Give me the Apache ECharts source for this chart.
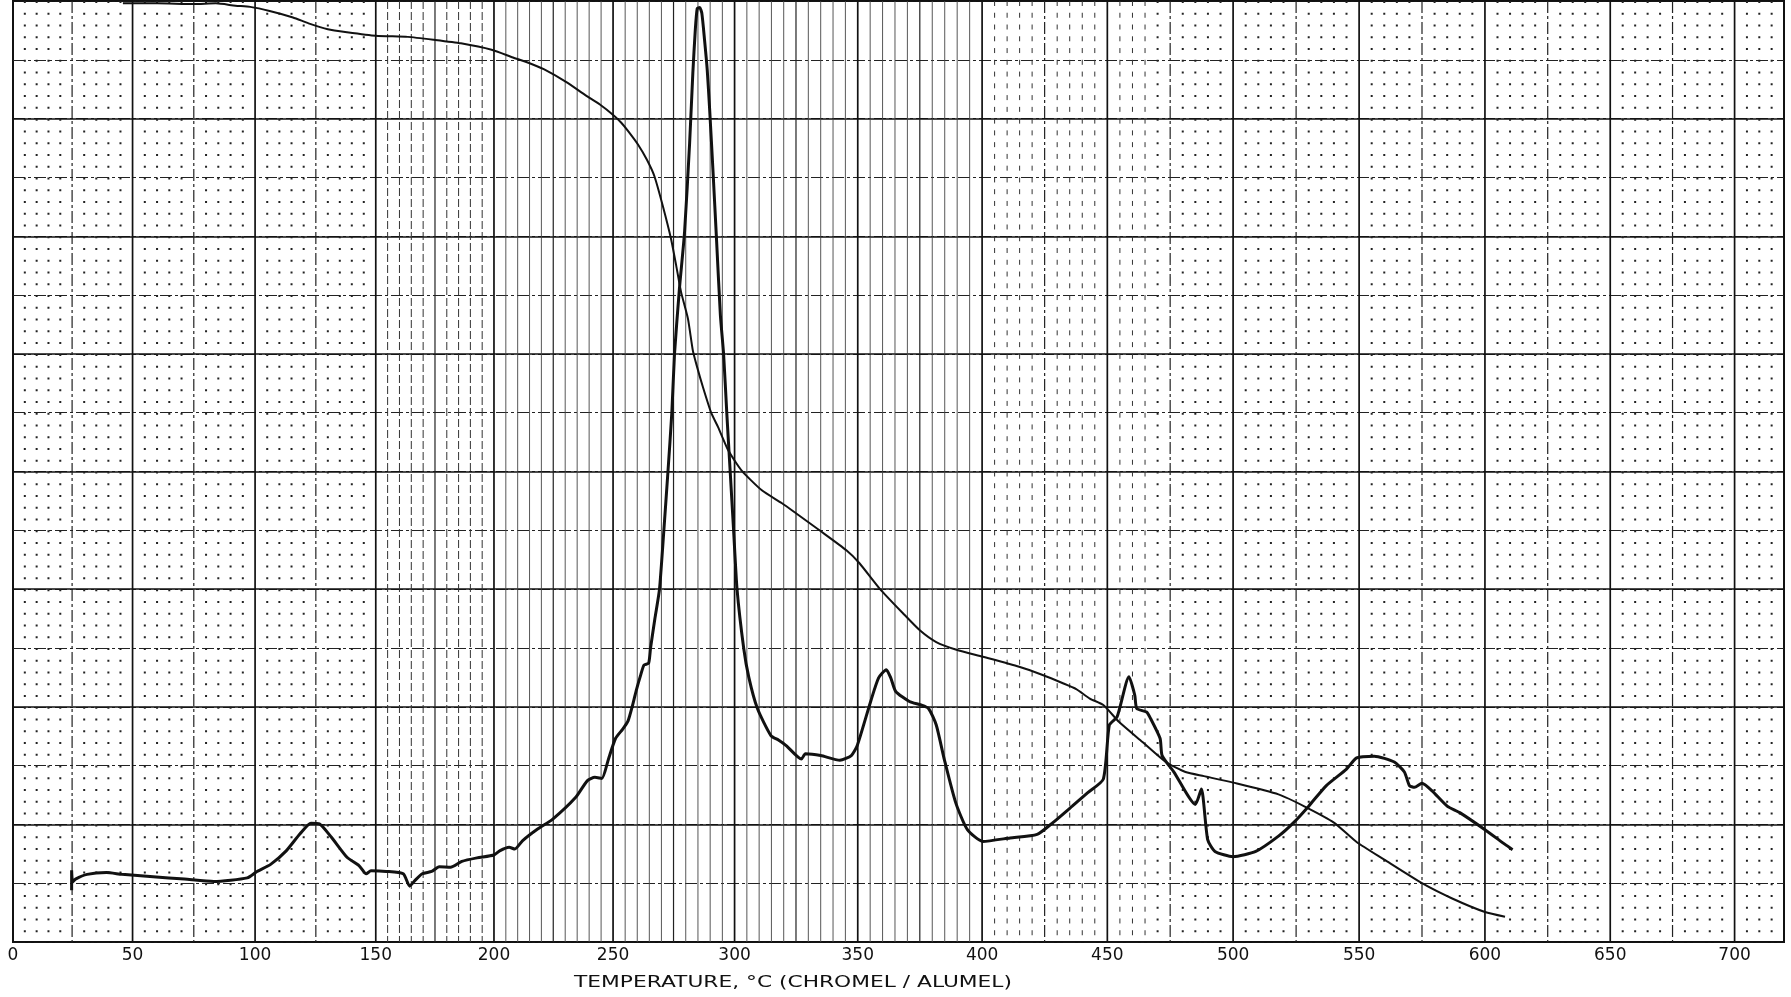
<!DOCTYPE html>
<html><head><meta charset="utf-8">
<script src="https://cdn.jsdelivr.net/npm/echarts@6/dist/echarts.min.js"></script>
<style>html,body{margin:0;padding:0;background:#fff;}#c{width:1791px;height:997px;}</style>
</head><body><div id="c"></div>
<script>
// The recorder paper is linear in thermocouple EMF (mV); temperature ticks sit at type K EMF values.
const TC_STEP_C = 25;
const TYPE_K_MV = [0.000, 1.000, 2.023, 3.059, 4.096, 5.124, 6.138, 7.140, 8.138, 9.141, 10.153, 11.176,
  12.209, 13.248, 14.293, 15.343, 16.397, 17.455, 18.516, 19.579, 20.644, 21.710, 22.776, 23.840,
  24.905, 25.967, 27.025, 28.079, 29.129, 30.174];

const xTickLabels = [0, 50, 100, 150, 200, 250, 300, 350, 400, 450, 500, 550, 600, 650, 700];
const xMaxC = 720;
const yDivisions = 16;
const axisTitle = 'TEMPERATURE, °C (CHROMEL / ALUMEL)';

// DTA trace: [temperature °C, chart divisions]
const dtaTemp = [24.8, 24.8, 25.2, 26.4, 31.2, 39.2, 45.6, 58.4, 71.2, 83.2, 96.8, 100.8, 106.4, 112.8, 118.5, 123, 126.5, 131.5, 138, 143, 146, 148, 154.4, 161.6, 164.3, 166.4, 169.6, 173.6, 176.8, 181.6, 186.4, 192.8, 200, 202.4, 206.4, 208.8, 212, 218.4, 224.8, 234.4, 239.2, 242.4, 245.3, 248, 251, 254, 256.2, 257.9, 259.6, 261.5, 262.8, 264.7, 265.5, 267.3, 269.2, 271, 272.7, 274.3, 275.4, 277.4, 279.5, 281.6, 282.9, 283.9, 284.7, 285.7, 286.6, 287.7, 288.8, 289.8, 291.2, 292.6, 294.2, 295.5, 296.8, 298.2, 299.6, 301, 303.7, 305.8, 309.3, 314.8, 318, 321, 327.2, 328.8, 335, 342.8, 347.4, 349.8, 355.2, 358.4, 361.5, 363.3, 365.3, 370.8, 375.5, 378.5, 381.6, 384.8, 389.4, 394.1, 400.3, 411.2, 422, 428.3, 436, 442.2, 448.4, 450.8, 453.9, 458.6, 460.9, 461.7, 465.6, 467.2, 471, 471.8, 476.5, 485, 487.4, 489.9, 492.8, 500, 509, 518, 524, 530, 537, 545, 549, 556, 564, 568, 570, 572, 575, 579, 585, 590, 600, 608, 611];
const dtaValue = [0.88, 1.22, 1.02, 1.07, 1.15, 1.18, 1.15, 1.11, 1.07, 1.03, 1.09, 1.2, 1.32, 1.55, 1.84, 2.02, 2.01, 1.78, 1.44, 1.3, 1.16, 1.21, 1.2, 1.16, 0.95, 1.04, 1.16, 1.2, 1.28, 1.27, 1.37, 1.43, 1.48, 1.55, 1.61, 1.58, 1.72, 1.92, 2.09, 2.46, 2.74, 2.8, 2.78, 3.1, 3.46, 3.62, 3.76, 4.0, 4.28, 4.55, 4.71, 4.74, 5.0, 5.5, 6.0, 7.0, 8.0, 9.0, 10.0, 11.1, 12.06, 13.59, 14.77, 15.5, 15.87, 15.89, 15.79, 15.34, 14.83, 14.15, 13.08, 11.95, 10.65, 10.0, 9.0, 8.0, 7.0, 6.0, 5.0, 4.5, 3.97, 3.51, 3.43, 3.34, 3.11, 3.2, 3.17, 3.09, 3.17, 3.34, 4.09, 4.49, 4.63, 4.49, 4.26, 4.09, 4.03, 3.97, 3.69, 3.11, 2.37, 1.91, 1.71, 1.77, 1.83, 2.03, 2.31, 2.54, 2.77, 3.69, 3.83, 4.51, 4.2, 3.97, 3.91, 3.8, 3.46, 3.17, 2.89, 2.34, 2.6, 1.74, 1.54, 1.45, 1.54, 1.8, 2.03, 2.31, 2.66, 2.94, 3.13, 3.16, 3.06, 2.89, 2.66, 2.63, 2.7, 2.57, 2.31, 2.2, 1.91, 1.66, 1.57];

// TGA trace: [temperature °C, chart divisions]
const tgaTemp = [46, 60, 75, 84, 92, 98, 106, 115.6, 122, 130, 138, 150, 163.5, 174.6, 186, 199, 208, 214.5, 221, 230.5, 238.4, 244.5, 250.4, 253.4, 256, 260.3, 264, 267.1, 270.6, 274, 276.1, 278.1, 280.9, 282.9, 284.5, 287, 290.4, 293.2, 297.4, 302.8, 311.1, 319.3, 325, 334.5, 345.4, 350.7, 358.8, 368.2, 375, 381.6, 389.7, 400.3, 414.8, 424.2, 432.3, 437.6, 443, 448.4, 454.7, 464, 473.3, 481.1, 488.4, 500, 518, 529, 540, 549, 560, 575, 587, 600, 608];
const tgaValue = [15.96, 15.96, 15.95, 15.96, 15.92, 15.9, 15.83, 15.72, 15.62, 15.52, 15.47, 15.41, 15.39, 15.34, 15.28, 15.17, 15.04, 14.95, 14.84, 14.62, 14.4, 14.24, 14.05, 13.93, 13.8, 13.56, 13.3, 13.02, 12.51, 11.95, 11.5, 11.05, 10.6, 10.06, 9.8, 9.44, 9.0, 8.76, 8.36, 8.02, 7.68, 7.46, 7.29, 7.0, 6.66, 6.44, 6.01, 5.59, 5.3, 5.1, 4.97, 4.85, 4.68, 4.54, 4.4, 4.3, 4.14, 4.03, 3.74, 3.4, 3.06, 2.89, 2.82, 2.71, 2.51, 2.29, 2.03, 1.70, 1.40, 1.0, 0.74, 0.51, 0.43];

function mv(t) {
  const i = Math.max(0, Math.min(Math.floor(t / TC_STEP_C), TYPE_K_MV.length - 2));
  const f = (t - i * TC_STEP_C) / TC_STEP_C;
  return TYPE_K_MV[i] + f * (TYPE_K_MV[i + 1] - TYPE_K_MV[i]);
}

// chart-paper rulings (temperatures of printed lines)
const rulings = { major: [], half: [], halfDense: [], fineDashed: [], fineSolid: [], fineShort: [], dots: [] };
for (let t = 5; t < xMaxC; t += 5) {
  if (t % 50 === 0) rulings.major.push(t);
  else if (t % 25 === 0) { if (t >= 150 && t <= 400) rulings.halfDense.push(t); else rulings.half.push(t); }
  else if (t > 150 && t < 200) rulings.fineDashed.push(t);
  else if (t > 200 && t < 400) rulings.fineSolid.push(t);
  else if (t > 400 && t < 470) rulings.fineShort.push(t);
  else rulings.dots.push(t);
}
const cellPx = 941 / yDivisions;
function rulingSeries(list, style, z) {
  return {
    type: 'custom', coordinateSystem: 'cartesian2d', silent: true, z: z, clip: false,
    data: list.map(t => [mv(t), 0]),
    renderItem: function (params, api) {
      const x = api.coord([api.value(0), 0])[0];
      const yTop = api.coord([api.value(0), yDivisions])[1];
      const yBot = api.coord([api.value(0), 0])[1];
      return { type: 'line', shape: { x1: x, y1: yTop, x2: x, y2: yBot }, style: Object.assign({ fill: null }, style) };
    }
  };
}

const chart = echarts.init(document.getElementById('c'), null, { renderer: 'canvas' });
const labelFont = 'DejaVu Sans';
chart.setOption({
  animation: false,
  backgroundColor: '#ffffff',
  grid: { left: 13, right: 7, top: 1, bottom: 55, show: true, borderColor: '#111', borderWidth: 2, backgroundColor: 'transparent' },
  xAxis: {
    type: 'value', min: 0, max: mv(xMaxC),
    axisLine: { show: false }, axisTick: { show: false }, splitLine: { show: false },
    axisLabel: {
      customValues: xTickLabels.map(mv),
      formatter: function (v) {
        let best = xTickLabels[0];
        xTickLabels.forEach(t => { if (Math.abs(mv(t) - v) < Math.abs(mv(best) - v)) best = t; });
        return String(best);
      },
      fontFamily: labelFont, fontSize: 17, color: '#111', margin: 5
    }
  },
  yAxis: [
    { type: 'value', min: 0, max: yDivisions, interval: 1, axisLabel: { show: false }, axisLine: { show: false }, axisTick: { show: false },
      splitLine: { show: true, lineStyle: { color: '#222', width: 1.2, type: [12, 3, 3, 3] } } },
    { type: 'value', min: 0, max: yDivisions, interval: 2, axisLabel: { show: false }, axisLine: { show: false }, axisTick: { show: false },
      splitLine: { show: true, lineStyle: { color: '#111', width: 1.6 } } }
  ],
  graphic: [{
    type: 'text', x: 793, y: 983, scaleX: 1.45, silent: true,
    style: { text: axisTitle, font: '15px "DejaVu Sans"', fill: '#111', align: 'center', verticalAlign: 'middle' }
  }],
  series: [
    rulingSeries(rulings.dots, { stroke: '#222', lineWidth: 2, lineDash: [2, cellPx / 5 - 2] }, 1),
    rulingSeries(rulings.fineShort, { stroke: '#333', lineWidth: 1, lineDash: [5, cellPx / 5 - 5] }, 1),
    rulingSeries(rulings.fineDashed, { stroke: '#333', lineWidth: 1, lineDash: [8, 3] }, 1),
    rulingSeries(rulings.fineSolid, { stroke: '#444', lineWidth: 0.9 }, 1),
    rulingSeries(rulings.half, { stroke: '#222', lineWidth: 1.2, lineDash: [12, 3, 3, 3] }, 1),
    rulingSeries(rulings.halfDense, { stroke: '#222', lineWidth: 1.2 }, 1),
    rulingSeries(rulings.major, { stroke: '#111', lineWidth: 1.7 }, 1),
    {
      name: 'TGA', type: 'line', z: 5, showSymbol: false, smooth: 0.2, silent: true,
      data: tgaTemp.map((t, i) => [mv(t), tgaValue[i]]),
      lineStyle: { color: '#111', width: 2 }
    },
    {
      name: 'DTA', type: 'line', z: 6, showSymbol: false, smooth: 0.2, silent: true,
      data: dtaTemp.map((t, i) => [mv(t), dtaValue[i]]),
      lineStyle: { color: '#111', width: 3 }
    }
  ]
});
</script>
</body></html>
